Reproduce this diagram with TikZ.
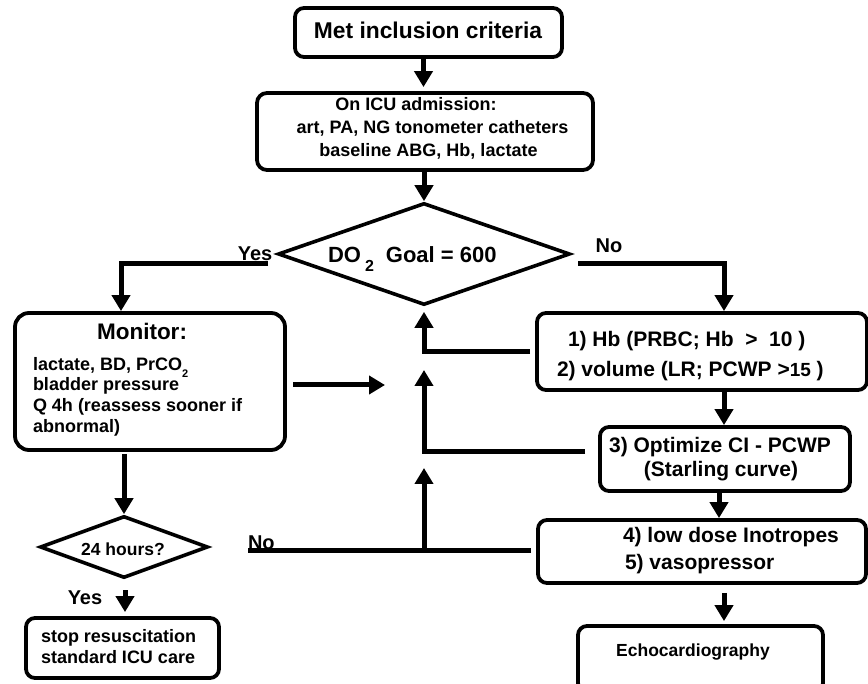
\documentclass[tikz,border=0pt]{standalone}
\usepackage{fontspec}
\setmainfont{Liberation Sans}
\usetikzlibrary{shapes.geometric,arrows.meta,calc}
\newcommand\myfs[1]{\fontsize{#1pt}{#1pt}\selectfont}
\tikzset{
  box/.style={draw=black, line width=3.8pt, rounded corners=9pt, inner sep=0pt, fill=white},
  dia/.style={draw=black, diamond, line width=3.6pt, inner sep=0pt},
  con/.style={line width=5pt, -{Triangle[width=18pt,length=16pt]}},
  lin/.style={line width=5pt},
  lbl/.style={inner sep=0pt, outer sep=0pt, font=\bfseries\myfs{#1}},
}
\begin{document}
\begin{tikzpicture}[x=1pt,y=-1pt]
\clip (0,0) rectangle (868,684);
\fill[white] (0,0) rectangle (868,684);

% named column coordinates
\coordinate (col0) at (423.5,0);
\coordinate (col) at (724,0);
\coordinate (col2) at (719,0);
\coordinate (yx) at (121,0);
\coordinate (upx) at (424,0);

% top boxes
\node[box, minimum width=267pt, minimum height=49pt] (crit) at (428.5,32.5) {};
\node[lbl=22.8, anchor=base] (critT) at (428,39) {Met inclusion criteria};

\node[box, rounded corners=10pt, minimum width=336pt, minimum height=77pt] (icu) at (425,131.5) {};
\node[lbl=18, anchor=base] (icu1) at (416,111) {On ICU admission:};
\node[lbl=18, anchor=base] (icu2) at (432.5,134) {art, PA, NG tonometer catheters};
\node[lbl=18, anchor=base] (icu3) at (428.5,157) {baseline ABG, Hb, lactate};

% goal diamond
\node[dia, minimum width=292pt, minimum height=102pt] (goal) at (424,254) {};
\node[lbl=22, anchor=base west] (goalT) at (328,263) {DO\hspace{4pt}\raisebox{-9pt}{\myfs{16}2}\hspace{12pt}Goal = 600};

\draw[con, shorten >=4pt] (col0 |- crit.south) -- (col0 |- icu.north);
\draw[con] (goal.north |- icu.south) -- (goal.north);

% monitor box
\node[box, rounded corners=14pt, minimum width=270pt, minimum height=137pt] (mon) at (150,381.5) {};
\node[lbl=22.5, anchor=base] (monT) at (142,340) {Monitor:};
\node[lbl=18, anchor=base west] (mon1) at (33,371) {lactate, BD, PrCO\raisebox{-7pt}{\myfs{11}2}};
\node[lbl=18, anchor=base west] (mon2) at (33,391) {bladder pressure};
\node[lbl=18, anchor=base west] (mon3) at (33,412) {Q 4h (reassess sooner if};
\node[lbl=18, anchor=base west] (mon4) at (33,433) {abnormal)};

% right column boxes
\node[box, minimum width=330pt, minimum height=77pt] (hb) at (702,351.5) {};
\node[lbl=21, anchor=base west] (hb1) at (568,347) {1) Hb (PRBC; Hb\ \ >\ \ 10 )};
\node[lbl=21, anchor=base west] (hb2) at (557,377) {2) volume (LR; PCWP >{\myfs{19}15} )};

\node[box, minimum width=250pt, minimum height=64pt] (opt) at (725,459) {};
\node[lbl=21, anchor=base] (opt1) at (720,453) {3) Optimize CI - PCWP};
\node[lbl=21, anchor=base] (opt2) at (721,477) {(Starling curve)};

\node[box, minimum width=328pt, minimum height=63pt] (ino) at (702,551.5) {};
\node[lbl=21, anchor=base west] (ino1) at (623,542) {4) low dose Inotropes};
\node[lbl=21, anchor=base west] (ino2) at (625,569) {5) vasopressor};

\node[box, minimum width=245pt, minimum height=66pt] (echo) at (700.5,659) {};
\node[lbl=17.5, anchor=base] (echoT) at (693,656) {Echocardiography};

% left bottom
\node[dia, minimum width=168pt, minimum height=62pt] (day) at (124,547) {};
\node[lbl=17.5, anchor=base] (dayT) at (123,555) {24 hours?};

\node[box, minimum width=193pt, minimum height=60pt] (stop) at (122.5,648) {};
\node[lbl=18, anchor=base west] (stop1) at (41,642) {stop resuscitation};
\node[lbl=18, anchor=base west] (stop2) at (41,663) {standard ICU care};

% free-end coordinates
\coordinate (yesEnd) at (268,264);
\coordinate (noStart) at (578,264);
\coordinate (monR) at (293,385);
\coordinate (monTip) at (385,385);
\coordinate (optL) at (585,452);
\coordinate (noEnd) at (248,550);
\coordinate (ys) at (125,590);

% connectors
\draw[con] (yesEnd) -| (yx |- mon.north);
\draw[con] (noStart) -| (col |- hb.north);
\draw[con] (monR) -- (monTip);
\draw[con, shorten <=2pt] (day.north |- mon.south) -- (day.north);
\draw[con, shorten <=5pt, shorten >=5pt] (hb.west) -| (goal.south);
\draw[con] (col |- hb.south) -- (col |- opt.north);
\draw[con] (optL) -| (upx |- 0,370);
\draw[con] (col2 |- opt.south) -- (col2 |- ino.north);
\draw[lin, shorten <=5pt] (noEnd -| ino.west) -- (noEnd);
\draw[con] (upx |- noEnd) -- (upx |- 0,468);
\draw[con, shorten <=8pt, shorten >=3pt] (col |- ino.south) -- (col |- echo.north);
\draw[con, shorten >=4pt] (ys) -- (ys |- stop.north);

% branch labels
\node[lbl=20, anchor=base] (yesT) at (255,261) {Yes};
\node[lbl=20, anchor=base] (noT) at (609,253) {No};
\node[lbl=20, anchor=base west] (noT2) at (248,549) {No};
\node[lbl=20, anchor=base] (yesT2) at (85,604) {Yes};
\end{tikzpicture}
\end{document}
